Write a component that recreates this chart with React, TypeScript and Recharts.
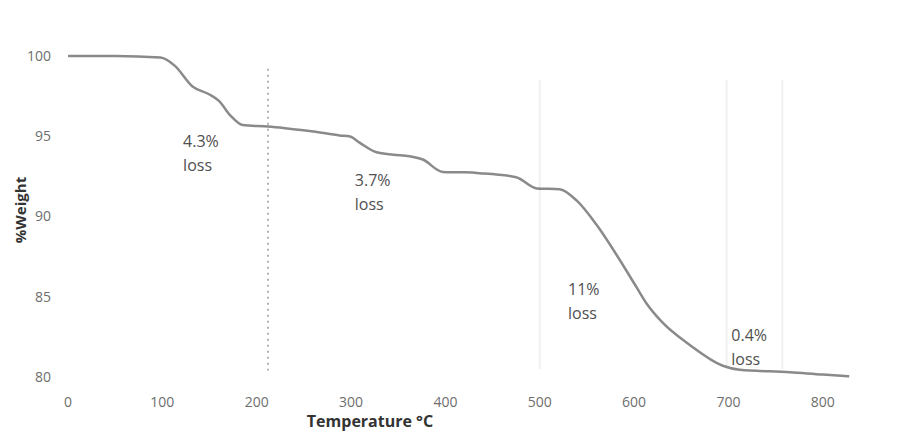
import React from 'react';
import { LineChart, Line, XAxis, YAxis, ReferenceLine, ReferenceDot } from 'recharts';

// TGA curve
const temps = [0, 50, 98, 113, 132, 150, 160, 172, 185, 212, 230, 260, 288, 299, 309, 327, 345, 362, 376, 397, 420, 436, 475, 497, 521, 539, 560, 581, 603, 613, 630, 659, 694, 712, 765, 800, 828];
const weights = [100, 100, 99.9, 99.4, 98.1, 97.6, 97.2, 96.3, 95.7, 95.6, 95.5, 95.3, 95.05, 94.98, 94.6, 94.0, 93.85, 93.75, 93.55, 92.78, 92.75, 92.7, 92.45, 91.75, 91.7, 91.0, 89.5, 87.65, 85.55, 84.6, 83.4, 82.0, 80.7, 80.45, 80.3, 80.15, 80.05];

const xTicks = [0, 100, 200, 300, 400, 500, 600, 700, 800];
const yTicks = [80, 85, 90, 95, 100];

// loss annotations
const lossLabels = ['4.3%', '3.7%', '11%', '0.4%'];
const lossTemps = [122, 304, 530, 703];
const lossWeights = [94.7, 92.3, 85.5, 82.6];

// dotted divider and faint scan lines
const dividerTemp = 212;
const faintTemps = [500, 698, 757];

const chartData = temps.map((t, i) => ({ temp: t, weight: weights[i] }));

const FONT = '"Open Sans", Lato, sans-serif';

const LossLabel = ({ viewBox, text }: any) => {
  const x = viewBox.x + viewBox.width / 2;
  const y = viewBox.y + viewBox.height / 2;
  return (
    <text x={x} y={y} fontFamily={FONT} fontSize={16} fill="#505050" textAnchor="start" dominantBaseline="central">
      <tspan x={x} dy={0}>{text}</tspan>
      <tspan x={x} dy={24}>loss</tspan>
    </text>
  );
};

const YLabel = () => (
  <text
    x={12}
    y={202}
    transform="rotate(-90 12 202)"
    textAnchor="middle"
    dominantBaseline="central"
    fontFamily={FONT}
    fontSize={15}
    fontWeight={700}
    fill="#333"
  >
    %Weight
  </text>
);

const XLabel = ({ viewBox }: any) => (
  <text
    x={viewBox.x + 302}
    y={413}
    textAnchor="middle"
    dominantBaseline="central"
    fontFamily={FONT}
    fontSize={16}
    fontWeight={700}
    fill="#333"
  >
    Temperature °C
  </text>
);

export default function App() {
  return (
    <div style={{ background: '#fff' }}>
      <LineChart width={890} height={423} data={chartData} margin={{ top: 48, right: 28, left: 20, bottom: 24 }}>
        <XAxis
          dataKey="temp"
          type="number"
          domain={[0, 850]}
          ticks={xTicks}
          axisLine={false}
          tickLine={false}
          tickMargin={14}
          height={30}
          tick={{ fill: '#6e6e6e', fontSize: 14, fontFamily: FONT }}
          label={{ content: XLabel }}
        />
        <YAxis
          type="number"
          domain={[80, 100]}
          ticks={yTicks}
          axisLine={false}
          tickLine={false}
          tickMargin={11}
          width={40}
          tick={{ fill: '#6e6e6e', fontSize: 14, fontFamily: FONT }}
          label={{ content: YLabel }}
        />
        {faintTemps.map((t) => (
          <ReferenceLine
            key={t}
            segment={[{ x: t, y: 98.5 }, { x: t, y: 80.5 }]}
            stroke="#f0f0f0"
            strokeWidth={2}
          />
        ))}
        <ReferenceLine
          segment={[{ x: dividerTemp, y: 99.2 }, { x: dividerTemp, y: 80.4 }]}
          stroke="#9a9a9a"
          strokeWidth={1.5}
          strokeDasharray="2 4"
        />
        <Line
          type="monotone"
          dataKey="weight"
          stroke="#8a8a8a"
          strokeWidth={2.5}
          dot={false}
          isAnimationActive={false}
        />
        {lossLabels.map((txt, i) => (
          <ReferenceDot
            key={txt}
            x={lossTemps[i]}
            y={lossWeights[i]}
            r={1}
            fill="none"
            stroke="none"
            label={{ content: (p: any) => <LossLabel {...p} text={txt} /> }}
          />
        ))}
      </LineChart>
    </div>
  );
}
